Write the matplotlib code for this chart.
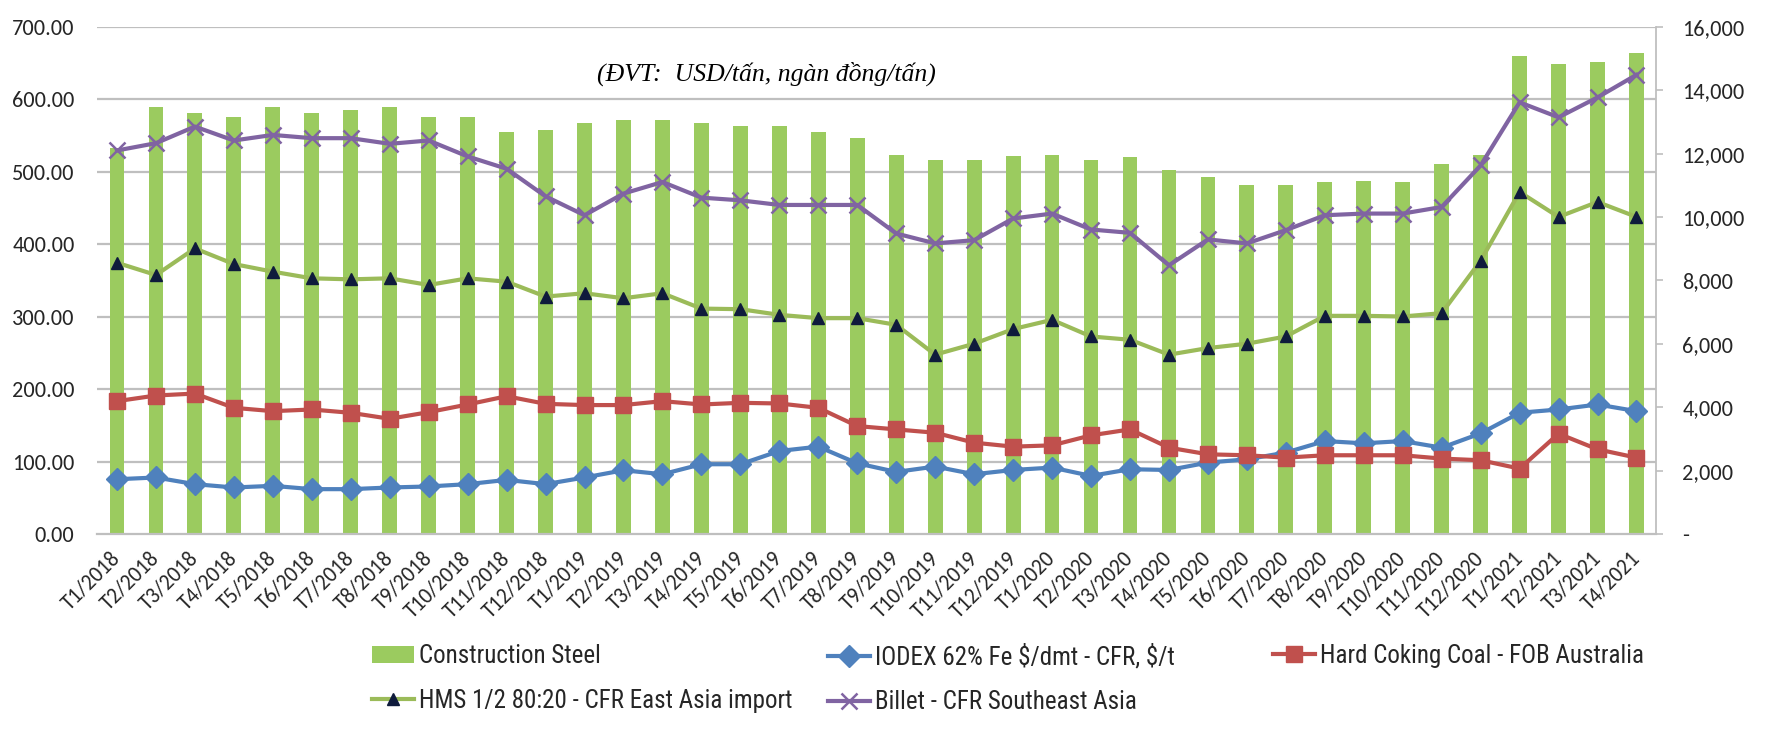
import matplotlib
matplotlib.use("Agg")
import matplotlib.pyplot as plt
from matplotlib import font_manager
from matplotlib.ticker import FuncFormatter, MultipleLocator
import numpy as np

def pick(*names):
    avail = {f.name for f in font_manager.fontManager.ttflist}
    for n in names:
        if n in avail:
            return n
    return "DejaVu Sans"

TICK_FONT = pick("Carlito", "Lato", "Open Sans")
LEG_FONT = pick("Liberation Sans Narrow", "Roboto Condensed", "Liberation Sans")
NOTE_FONT = pick("Liberation Serif", "DejaVu Serif")

months = ([f"T{m}/2018" for m in range(1, 13)] + [f"T{m}/2019" for m in range(1, 13)]
          + [f"T{m}/2020" for m in range(1, 13)] + [f"T{m}/2021" for m in range(1, 5)])

# Construction steel (ngàn đồng/tấn, right axis)
construction_steel = [12180, 13490, 13280, 13170, 13490, 13280, 13370, 13490, 13170, 13170,
                      12690, 12750, 12980, 13070, 13070, 12980, 12880, 12880, 12690, 12500,
                      11970, 11790, 11790, 11940, 11970, 11790, 11900, 11480, 11280, 11000,
                      11000, 11110, 11150, 11110, 11670, 11970, 15070, 14840, 14880, 15170]
# USD/tấn (left axis)
iodex = [75.6, 78.0, 68.8, 64.2, 66.5, 61.9, 61.9, 64.2, 65.6, 68.8,
         74.7, 68.8, 78.0, 88.0, 82.5, 96.3, 96.3, 114.6, 120.6, 97.6,
         85.7, 93.1, 82.5, 88.4, 91.7, 80.2, 89.4, 88.4, 98.6, 103.1,
         112.4, 128.3, 125.2, 128.3, 119.2, 138.9, 167.4, 171.9, 178.8, 169.6]
coking_coal = [183.4, 191.2, 193.9, 174.2, 169.6, 171.9, 167.3, 159.1, 168.2, 178.8,
               190.2, 179.7, 178.0, 178.0, 183.4, 178.8, 181.1, 180.2, 174.2, 149.0,
               144.4, 139.8, 126.1, 120.6, 122.4, 136.2, 144.4, 119.2, 110.0, 108.7,
               105.4, 108.7, 108.7, 108.7, 104.1, 101.8, 90.3, 138.5, 116.9, 105.4]
hms = [374.5, 357.6, 394.3, 372.7, 362.2, 353.0, 351.6, 353.0, 343.8, 353.0,
       348.4, 327.8, 332.4, 325.5, 332.4, 311.2, 310.4, 302.6, 298.0, 298.0,
       288.8, 247.6, 262.7, 282.9, 295.7, 272.7, 268.2, 247.6, 256.7, 262.7,
       272.7, 301.2, 301.2, 300.3, 304.9, 377.3, 472.2, 437.8, 458.4, 437.8]
billet = [529.5, 539.6, 562.5, 543.3, 551.0, 546.5, 546.5, 538.7, 543.3, 521.3,
          504.3, 466.2, 440.1, 470.0, 486.0, 464.4, 460.7, 454.3, 454.3, 454.3,
          414.9, 401.2, 405.7, 435.6, 442.4, 420.4, 415.8, 371.0, 406.7, 401.2,
          419.5, 440.1, 442.4, 442.4, 451.5, 508.9, 596.0, 575.3, 602.8, 634.0]

labels = ["Construction Steel", r"IODEX 62% Fe \$/dmt - CFR, \$/t", "Hard Coking Coal - FOB Australia",
          "HMS 1/2 80:20 - CFR East Asia import", "Billet - CFR Southeast Asia"]
note = "(ĐVT:  USD/tấn, ngàn đồng/tấn)"

LEFT_MAX, LEFT_STEP = 700, 100
RIGHT_MAX, RIGHT_STEP = 16000, 2000

fig = plt.figure(figsize=(17.66, 7.46), dpi=100)
ax = fig.add_axes([0.0552, 0.2842, 0.8825, 0.6796])   # bars, right-hand scale
ax2 = ax.twinx()                                      # lines, left-hand scale

x = np.arange(len(months))
grid_c = "#BFBFBF"
txt_c = "#262626"
for v in np.arange(LEFT_STEP, LEFT_MAX + 1, LEFT_STEP):
    ax.axhline(v * RIGHT_MAX / LEFT_MAX, color=grid_c, lw=1.6, zorder=0)

bars = ax.bar(x, construction_steel, width=0.38, color="#9BCB5F", zorder=2, label=labels[0])
ax.set_ylim(0, RIGHT_MAX)
ax.set_xlim(-0.5, len(months) - 0.5)
ax.yaxis.tick_right()
ax.yaxis.set_major_locator(MultipleLocator(RIGHT_STEP))
ax.yaxis.set_major_formatter(FuncFormatter(lambda v, p: "-" if v == 0 else f"{v:,.0f}"))
ax.tick_params(axis="y", direction="out", length=5, width=1.2, color=grid_c, pad=14,
               labelsize=16, labelcolor=txt_c)
for t in ax.get_yticklabels():
    t.set_fontfamily(TICK_FONT)
ax.set_xticks(x)
ax.set_xticklabels(months, rotation=45, ha="right", va="center", rotation_mode="anchor",
                   fontsize=15.5, color=txt_c, fontfamily=TICK_FONT)
ax.tick_params(axis="x", length=0, pad=15)
for s in ("left", "top"):
    ax.spines[s].set_visible(False)
ax.spines["right"].set_color(grid_c)
ax.spines["bottom"].set_color(grid_c)
ax.spines["right"].set_linewidth(1.3)
ax.spines["bottom"].set_linewidth(1.6)

lw = 3.0
l_iodex, = ax2.plot(x, iodex, color="#4F81BD", lw=lw, marker="D", ms=11, mfc="#4F81BD",
                    mec="#4F81BD", label=labels[1], zorder=3)
l_coal, = ax2.plot(x, coking_coal, color="#C0504D", lw=lw, marker="s", ms=11.5, mfc="#C0504D",
                   mec="#C0504D", label=labels[2], zorder=3)
l_hms, = ax2.plot(x, hms, color="#9BBB59", lw=lw, marker="^", ms=8.5, mfc="#0F1B3C",
                  mec="#0F1B3C", label=labels[3], zorder=3)
l_billet, = ax2.plot(x, billet, color="#8064A2", lw=lw, marker="x", ms=12, mew=1.8,
                     mec="#8064A2", label=labels[4], zorder=3)
ax2.set_ylim(0, LEFT_MAX)
ax2.yaxis.tick_left()
ax2.yaxis.set_major_locator(MultipleLocator(LEFT_STEP))
ax2.yaxis.set_major_formatter(FuncFormatter(lambda v, p: f"{v:.2f}"))
ax2.tick_params(axis="y", length=0, pad=16.5, labelsize=16, labelcolor=txt_c)
for t in ax2.get_yticklabels():
    t.set_fontfamily(TICK_FONT)
for s in ax2.spines.values():
    s.set_visible(False)

fig.text(0.338, 0.901, note, fontsize=18.5, style="italic", fontfamily=NOTE_FONT,
         ha="left", va="center", color="black")

# legend laid out as three columns, each its own legend box
columns = [([bars, l_hms], 0.2106), ([l_iodex, l_billet], 0.4688), ([l_coal], 0.7207)]
for hs, x0 in columns:
    lg = fig.legend(hs, [h.get_label() for h in hs], ncol=1, loc="upper left",
                    bbox_to_anchor=(x0, 0.1367), frameon=False,
                    prop={"family": LEG_FONT, "size": 18}, handlelength=1.7,
                    handletextpad=0.2, labelspacing=0.83, borderaxespad=0, borderpad=0)
    for t in lg.get_texts():
        t.set_color(txt_c)
fig.savefig("out.png", dpi=100)
